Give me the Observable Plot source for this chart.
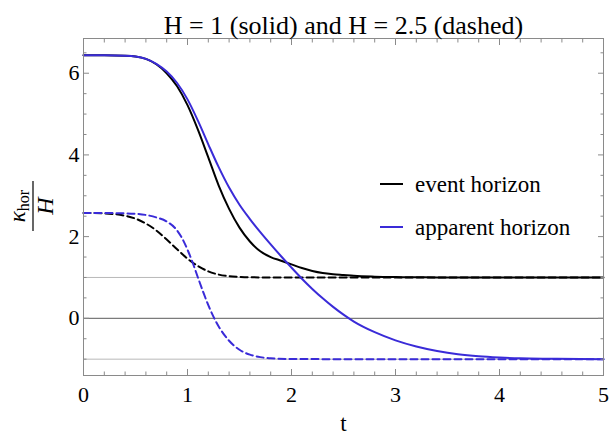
<!DOCTYPE html>
<html>
<head>
<meta charset="utf-8">
<script src="https://cdn.jsdelivr.net/npm/d3@7"></script>
<script src="https://cdn.jsdelivr.net/npm/@observablehq/plot@0.6"></script>
<style>
  body { margin: 0; background: #fff; }
  svg { display: block; }
</style>
</head>
<body>
<div id="chart"></div>
<script>
// Surface gravity of the horizons, normalised by H, as a function of time.
const title = "H = 1 (solid) and H = 2.5 (dashed)";
const xLabel = "t";

// H = 1 (solid curves)
const tSolid = [0, 0.2, 0.4, 0.5, 0.6, 0.7, 0.8, 0.9, 1.0, 1.1, 1.2, 1.3, 1.4, 1.5, 1.6, 1.7, 1.8, 1.9, 2.0, 2.1, 2.2, 2.3, 2.4, 2.5, 2.6, 2.8, 3.0, 3.2, 3.4, 3.6, 3.8, 4.0, 4.2, 4.5, 5.0];
const eventSolid = [6.44, 6.44, 6.43, 6.41, 6.35, 6.22, 6.0, 5.68, 5.22, 4.62, 3.94, 3.25, 2.68, 2.22, 1.88, 1.64, 1.5, 1.41, 1.32, 1.23, 1.16, 1.11, 1.08, 1.06, 1.04, 1.02, 1.01, 1.005, 1.0, 1.0, 1.0, 1.0, 1.0, 1.0, 1.0];
const apparentSolid = [6.44, 6.44, 6.43, 6.41, 6.35, 6.23, 6.04, 5.76, 5.36, 4.84, 4.26, 3.7, 3.2, 2.78, 2.43, 2.11, 1.81, 1.52, 1.24, 0.97, 0.72, 0.49, 0.28, 0.09, -0.08, -0.34, -0.54, -0.69, -0.8, -0.88, -0.93, -0.96, -0.98, -0.99, -1.0];

// H = 2.5 (dashed curves)
const tEventDashed = [0, 0.2, 0.3, 0.4, 0.5, 0.6, 0.7, 0.8, 0.9, 1.0, 1.1, 1.2, 1.3, 1.4, 1.5, 1.6, 1.8, 2.5, 3.5, 5.0];
const eventDashed = [2.58, 2.57, 2.55, 2.51, 2.44, 2.32, 2.15, 1.93, 1.69, 1.46, 1.28, 1.15, 1.07, 1.03, 1.015, 1.005, 1.0, 1.0, 1.0, 1.0];
const tApparentDashed = [0, 0.3, 0.5, 0.6, 0.7, 0.8, 0.9, 0.95, 1.0, 1.05, 1.1, 1.15, 1.2, 1.3, 1.4, 1.5, 1.6, 1.7, 1.8, 2.0, 2.5, 3.5, 5.0];
const apparentDashed = [2.58, 2.575, 2.56, 2.53, 2.47, 2.37, 2.15, 1.95, 1.68, 1.36, 1.0, 0.65, 0.32, -0.2, -0.55, -0.77, -0.89, -0.95, -0.98, -0.995, -1.0, -1.0, -1.0];

// reference levels and ticks
const gridLevels = [-1, 1];
const zeroLevel = [0];
const xMajor = [0, 1, 2, 3, 4, 5];
const xMinor = [0.2, 0.4, 0.6, 0.8, 1.2, 1.4, 1.6, 1.8, 2.2, 2.4, 2.6, 2.8, 3.2, 3.4, 3.6, 3.8, 4.2, 4.4, 4.6, 4.8];
const yMajor = [0, 2, 4, 6];
const yMinor = [-1, -0.5, 0.5, 1, 1.5, 2.5, 3, 3.5, 4.5, 5, 5.5, 6.5];

const seriesNames = ["event horizon", "apparent horizon"];
const seriesColors = ["#000000", "#3a2bd8"];

const table = (ts, ks) => ts.map((t, i) => ({t, k: ks[i]}));

const serif = "'Liberation Serif', 'Times New Roman', serif";
const frameGray = "#8a8a8a";

const plot = Plot.plot({
  width: 609,
  height: 441,
  marginTop: 38,
  marginRight: 6,
  marginBottom: 66,
  marginLeft: 83,
  style: {fontFamily: serif, fontSize: "22px", background: "#fff", color: "#000"},
  x: {domain: [0, 5]},
  y: {domain: [-1.4, 6.85]},
  marks: [
    Plot.ruleY(gridLevels, {stroke: "#b8b8b8", strokeWidth: 1}),
    Plot.ruleY(zeroLevel, {stroke: "#5a5a5a", strokeWidth: 1}),
    Plot.line(table(tEventDashed, eventDashed), {x: "t", y: "k", stroke: seriesColors[0], strokeWidth: 2, strokeDasharray: "7,4", curve: "monotone-x"}),
    Plot.line(table(tApparentDashed, apparentDashed), {x: "t", y: "k", stroke: seriesColors[1], strokeWidth: 2, strokeDasharray: "7,4", curve: "monotone-x"}),
    Plot.line(table(tSolid, eventSolid), {x: "t", y: "k", stroke: seriesColors[0], strokeWidth: 2, curve: "monotone-x"}),
    Plot.line(table(tSolid, apparentSolid), {x: "t", y: "k", stroke: seriesColors[1], strokeWidth: 2, curve: "monotone-x"}),
    Plot.frame({stroke: frameGray, strokeWidth: 1}),
    // inward ticks on all four sides
    Plot.axisX({ticks: xMajor, anchor: "bottom", tickSize: -6, tickFormat: () => "", label: null, stroke: frameGray}),
    Plot.axisX({ticks: xMinor, anchor: "bottom", tickSize: -3.5, tickFormat: () => "", label: null, stroke: frameGray}),
    Plot.axisX({ticks: xMajor, anchor: "top", tickSize: -6, tickFormat: () => "", label: null, stroke: frameGray}),
    Plot.axisX({ticks: xMinor, anchor: "top", tickSize: -3.5, tickFormat: () => "", label: null, stroke: frameGray}),
    Plot.axisY({ticks: yMajor, anchor: "left", tickSize: -6, tickFormat: () => "", label: null, stroke: frameGray}),
    Plot.axisY({ticks: yMinor, anchor: "left", tickSize: -3.5, tickFormat: () => "", label: null, stroke: frameGray}),
    Plot.axisY({ticks: yMajor, anchor: "right", tickSize: -6, tickFormat: () => "", label: null, stroke: frameGray}),
    Plot.axisY({ticks: yMinor, anchor: "right", tickSize: -3.5, tickFormat: () => "", label: null, stroke: frameGray}),
    // tick labels
    Plot.axisX({ticks: xMajor, anchor: "bottom", tickSize: 0, tickPadding: 11, label: null, fontSize: 22, tickFormat: d => String(d)}),
    Plot.axisY({ticks: yMajor, anchor: "left", tickSize: 0, tickPadding: 4, label: null, fontSize: 22, tickFormat: d => String(d)}),
    // axis title and chart title
    Plot.text([xLabel], {text: d => d, frameAnchor: "bottom", dy: 55, fontSize: 23, fill: "#000"}),
    Plot.text([title], {text: d => d, frameAnchor: "top", dy: -23, fontSize: 26, fill: "#000"})
  ]
});

document.getElementById("chart").appendChild(plot);

// y-axis title: the fraction kappa_hor / H, rotated
const svg = d3.select(plot);
const ylab = svg.append("g")
  .attr("transform", "translate(33,206) rotate(-90)")
  .attr("font-family", serif)
  .attr("fill", "#000");
const num = ylab.append("text").attr("x", 0).attr("y", -8).attr("text-anchor", "middle");
num.append("tspan").attr("font-style", "italic").attr("font-size", 23).text("κ");
num.append("tspan").attr("font-size", 16).attr("dy", 4).text("hor");
ylab.append("line").attr("x1", -25).attr("x2", 25).attr("y1", 0).attr("y2", 0)
  .attr("stroke", "#000").attr("stroke-width", 1.2);
ylab.append("text").attr("x", 0).attr("y", 20).attr("text-anchor", "middle")
  .attr("font-style", "italic").attr("font-size", 24).text("H");

// legend
const legend = svg.append("g").attr("font-family", serif).attr("font-size", 23);
seriesNames.forEach((name, i) => {
  const yc = 184 + i * 43;
  legend.append("line").attr("x1", 380).attr("x2", 403).attr("y1", yc).attr("y2", yc)
    .attr("stroke", seriesColors[i]).attr("stroke-width", 2);
  legend.append("text").attr("x", 415).attr("y", yc + 8).attr("text-anchor", "start")
    .attr("fill", "#000").text(name);
});
</script>
</body>
</html>
